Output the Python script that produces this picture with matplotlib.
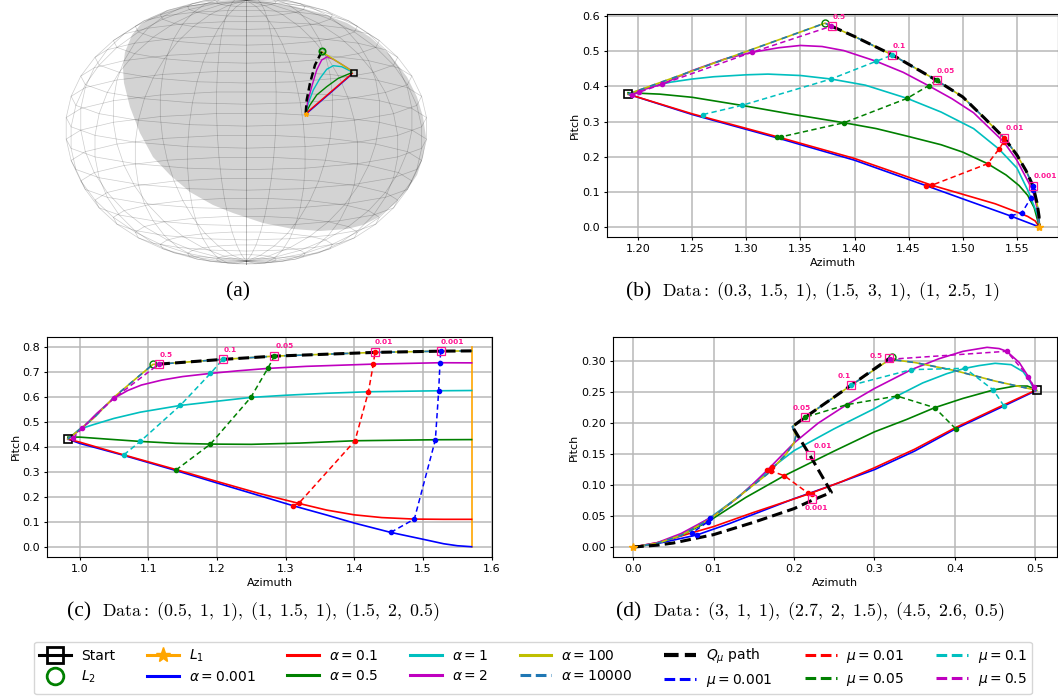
import numpy as np
import matplotlib
matplotlib.use('Agg')
import matplotlib.pyplot as plt
from matplotlib.lines import Line2D
from matplotlib.patches import Polygon

W, H = 1058, 698
plt.rcParams['font.family'] = 'DejaVu Sans'
plt.rcParams['mathtext.fontset'] = 'dejavusans'
plt.rcParams['font.size'] = 8

# ============================================================
# PANEL (b)
# ============================================================
b_start = (1.1907, 0.378)
b_l1 = (1.5708, 0.0)
b_l2 = (1.3727, 0.58)
b_a0001_x = [1.1907, 1.25, 1.3286, 1.40, 1.4659, 1.50, 1.5442, 1.5708]
b_a0001_y = [0.378, 0.32, 0.2535, 0.190, 0.1179, 0.0800, 0.0314, 0.0]
b_a01_x = [1.1907, 1.25, 1.3286, 1.40, 1.4714, 1.50, 1.53, 1.55, 1.56, 1.567, 1.5708]
b_a01_y = [0.378, 0.322, 0.2567, 0.195, 0.1188, 0.093, 0.066, 0.0425, 0.03, 0.017, 0.0]
b_a05_x = [1.1907, 1.22, 1.25, 1.2959, 1.34, 1.3903, 1.42, 1.4486, 1.48, 1.50, 1.523, 1.54, 1.552, 1.56, 1.566, 1.5708]
b_a05_y = [0.382, 0.378, 0.369, 0.346, 0.322, 0.2966, 0.28, 0.2585, 0.234, 0.213, 0.18, 0.148, 0.118, 0.09, 0.055, 0.0]
b_a1_x = [1.1907, 1.21, 1.23, 1.25, 1.27, 1.30, 1.32, 1.35, 1.3783, 1.41, 1.4486, 1.48, 1.51, 1.5335, 1.55, 1.56, 1.563, 1.569, 1.5708]
b_a1_y = [0.378, 0.398, 0.412, 0.421, 0.4275, 0.433, 0.435, 0.431, 0.421, 0.4035, 0.366, 0.327, 0.28, 0.2215, 0.168, 0.105, 0.0827, 0.035, 0.0]
b_a2_x = [1.1907, 1.2219, 1.25, 1.28, 1.3052, 1.33, 1.35, 1.37, 1.39, 1.42, 1.445, 1.4684, 1.49, 1.51, 1.5378, 1.55, 1.5646, 1.569, 1.5708]
b_a2_y = [0.378, 0.406, 0.445, 0.478, 0.497, 0.51, 0.5165, 0.5135, 0.502, 0.4715, 0.44, 0.402, 0.365, 0.325, 0.2424, 0.19, 0.1046, 0.05, 0.0]
b_a100_x = [1.1907, 1.3727, 1.379, 1.40, 1.435, 1.4758, 1.50, 1.52, 1.5384, 1.55, 1.5585, 1.5649, 1.5685, 1.5705, 1.5708]
b_a100_y = [0.378, 0.58, 0.571, 0.542, 0.4895, 0.4173, 0.37, 0.31, 0.2529, 0.205, 0.16, 0.117, 0.07, 0.03, 0.0]
b_q_x = [1.379, 1.40, 1.435, 1.4758, 1.50, 1.52, 1.5384, 1.55, 1.5585, 1.5649, 1.5685, 1.5705, 1.5708]
b_q_y = [0.571, 0.542, 0.4895, 0.4173, 0.37, 0.31, 0.2529, 0.205, 0.16, 0.117, 0.07, 0.03, 0.0]
b_m0001_x = [1.5442, 1.5547, 1.5630, 1.5646, 1.5649]
b_m0001_y = [0.0314, 0.0409, 0.0827, 0.1046, 0.117]
b_m001_x = [1.4659, 1.4714, 1.523, 1.5335, 1.5378, 1.5384]
b_m001_y = [0.1179, 0.1188, 0.18, 0.2215, 0.2424, 0.2529]
b_m005_x = [1.3286, 1.3325, 1.3903, 1.4486, 1.4684, 1.4758]
b_m005_y = [0.2567, 0.2567, 0.2966, 0.366, 0.402, 0.4173]
b_m01_x = [1.26, 1.2959, 1.3783, 1.42, 1.435]
b_m01_y = [0.32, 0.346, 0.421, 0.4715, 0.4895]
b_m05_x = [1.1948, 1.2006, 1.2219, 1.3052, 1.3783]
b_m05_y = [0.3755, 0.383, 0.406, 0.497, 0.571]
b_mu_labels = ['0.5', '0.1', '0.05', '0.01', '0.001']
b_mu_x = [1.379, 1.435, 1.4758, 1.5384, 1.5649]
b_mu_y = [0.571, 0.4895, 0.4173, 0.2529, 0.117]

# ============================================================
# PANEL (c)
# ============================================================
c_start = (0.983, 0.432)
c_l1_x = [1.5708, 1.5708]
c_l1_y = [0.0, 0.80]
c_l2 = (1.1067, 0.7318)
c_a0001_x = [0.983, 1.0, 1.06, 1.14, 1.2, 1.311, 1.36, 1.4, 1.453, 1.5, 1.53, 1.55, 1.5708]
c_a0001_y = [0.432, 0.415, 0.37, 0.306, 0.256, 0.1645, 0.127, 0.095, 0.0575, 0.03, 0.012, 0.004, 0.0]
c_a01_x = [0.983, 1.0, 1.06, 1.14, 1.2, 1.26, 1.3191, 1.36, 1.40, 1.44, 1.4874, 1.53, 1.5708]
c_a01_y = [0.432, 0.42, 0.372, 0.31, 0.262, 0.215, 0.174, 0.147, 0.128, 0.117, 0.111, 0.11, 0.11]
c_a05_x = [0.983, 1.0, 1.04, 1.0883, 1.14, 1.1906, 1.25, 1.32, 1.401, 1.518, 1.5708]
c_a05_y = [0.44, 0.44, 0.432, 0.4227, 0.415, 0.412, 0.411, 0.416, 0.4254, 0.4294, 0.43]
c_a1_x = [0.983, 1.0, 1.02, 1.05, 1.0883, 1.1465, 1.2, 1.2493, 1.3, 1.36, 1.4205, 1.5228, 1.5708]
c_a1_y = [0.432, 0.472, 0.49, 0.515, 0.54, 0.567, 0.584, 0.5993, 0.608, 0.616, 0.622, 0.626, 0.627]
c_a2_x = [0.983, 1.0034, 1.025, 1.0495, 1.07, 1.09, 1.12, 1.15, 1.1906, 1.23, 1.274, 1.33, 1.4277, 1.5247, 1.5708]
c_a2_y = [0.432, 0.475, 0.535, 0.595, 0.627, 0.649, 0.669, 0.683, 0.6957, 0.706, 0.7157, 0.724, 0.733, 0.7385, 0.738]
c_a100_x = [0.983, 1.02, 1.05, 1.08, 1.1067, 1.1159, 1.2085, 1.2837, 1.43, 1.5257, 1.5708]
c_a100_y = [0.432, 0.515, 0.6, 0.67, 0.7318, 0.733, 0.752, 0.765, 0.78, 0.785, 0.786]
c_q_x = [1.1159, 1.2085, 1.2837, 1.43, 1.5257, 1.5708]
c_q_y = [0.733, 0.752, 0.765, 0.78, 0.785, 0.786]
c_m0001_x = [1.453, 1.4874, 1.518, 1.5228, 1.5247, 1.5257]
c_m0001_y = [0.0575, 0.111, 0.4294, 0.626, 0.7385, 0.785]
c_m001_x = [1.3104, 1.3191, 1.401, 1.4205, 1.4277, 1.43]
c_m001_y = [0.1645, 0.174, 0.4254, 0.622, 0.733, 0.78]
c_m005_x = [1.1402, 1.1906, 1.2493, 1.274, 1.2837]
c_m005_y = [0.3077, 0.412, 0.5993, 0.7157, 0.765]
c_m01_x = [1.0645, 1.0883, 1.1465, 1.1906, 1.2085]
c_m01_y = [0.369, 0.4227, 0.567, 0.6957, 0.752]
c_m05_x = [0.9903, 1.0034, 1.0495, 1.115]
c_m05_y = [0.435, 0.475, 0.595, 0.732]
c_mu_labels = ['0.5', '0.1', '0.05', '0.01', '0.001']
c_mu_x = [1.1159, 1.2085, 1.2837, 1.43, 1.5257]
c_mu_y = [0.733, 0.752, 0.765, 0.78, 0.785]

# ============================================================
# PANEL (d)
# ============================================================
d_start = (0.502, 0.253)
d_l1 = (0.0, 0.0)
d_l2 = (0.3215, 0.3075)
d_a0001_x = [0.0, 0.03, 0.0791, 0.12, 0.16, 0.2, 0.25, 0.3, 0.35, 0.401, 0.461, 0.5]
d_a0001_y = [0.0, 0.0055, 0.0194, 0.038, 0.058, 0.078, 0.101, 0.125, 0.155, 0.191, 0.2278, 0.252]
d_a01_x = [0.0, 0.03, 0.05, 0.0737, 0.1, 0.15, 0.2195, 0.26, 0.3, 0.35, 0.401, 0.45, 0.5]
d_a01_y = [0.0, 0.007, 0.014, 0.0232, 0.033, 0.056, 0.0862, 0.106, 0.128, 0.158, 0.193, 0.223, 0.253]
d_a05_x = [0.0, 0.03, 0.06, 0.0932, 0.14, 0.188, 0.25, 0.3, 0.34, 0.375, 0.41, 0.4478, 0.475, 0.49, 0.5]
d_a05_y = [0.0, 0.006, 0.019, 0.0409, 0.08, 0.1152, 0.155, 0.186, 0.206, 0.2251, 0.24, 0.2536, 0.26, 0.26, 0.255]
d_a1_x = [0.0, 0.03, 0.06, 0.0957, 0.13, 0.1732, 0.2, 0.25, 0.3, 0.328, 0.36, 0.39, 0.4126, 0.43, 0.45, 0.47, 0.485, 0.4934, 0.5]
d_a1_y = [0.0, 0.006, 0.019, 0.0474, 0.08, 0.1287, 0.1556, 0.191, 0.2235, 0.2439, 0.265, 0.28, 0.2886, 0.293, 0.2967, 0.2945, 0.283, 0.267, 0.252]
d_a2_x = [0.0, 0.03, 0.06, 0.1, 0.13, 0.15, 0.167, 0.2, 0.23, 0.2655, 0.3, 0.3459, 0.38, 0.41, 0.44, 0.455, 0.4644, 0.48, 0.4913, 0.5]
d_a2_y = [0.0, 0.007, 0.022, 0.05, 0.0795, 0.103, 0.1244, 0.168, 0.2, 0.2299, 0.256, 0.2865, 0.304, 0.316, 0.3225, 0.3205, 0.3161, 0.298, 0.2752, 0.252]
d_a100_x = [0.0, 0.03, 0.06, 0.0957, 0.13, 0.167, 0.19, 0.2, 0.2025, 0.198, 0.2138, 0.2709, 0.3194, 0.35, 0.40, 0.45, 0.502]
d_a100_y = [0.0, 0.006, 0.019, 0.045, 0.08, 0.118, 0.15, 0.168, 0.18, 0.1944, 0.2095, 0.2612, 0.3032, 0.298, 0.285, 0.268, 0.253]
d_q_x = [0.0, 0.03, 0.05, 0.1, 0.15, 0.2, 0.2225, 0.2465, 0.2196, 0.198, 0.2138, 0.2709, 0.3186]
d_q_y = [0.0, 0.003, 0.0065, 0.02, 0.04, 0.062, 0.0755, 0.0883, 0.1486, 0.1944, 0.2095, 0.2612, 0.3048]
d_m0001_x = [0.0791, 0.0737, 0.0932, 0.0957]
d_m0001_y = [0.0194, 0.0232, 0.0409, 0.0474]
d_m001_x = [0.222, 0.2179, 0.188, 0.1715, 0.167, 0.1732]
d_m001_y = [0.0862, 0.0867, 0.1152, 0.1228, 0.1244, 0.1287]
d_m005_x = [0.401, 0.3749, 0.328, 0.2655, 0.2138]
d_m005_y = [0.191, 0.2251, 0.2439, 0.2299, 0.2095]
d_m01_x = [0.461, 0.4478, 0.4126, 0.3459, 0.2709]
d_m01_y = [0.2278, 0.2536, 0.2886, 0.2865, 0.2612]
d_m05_x = [0.4983, 0.4913, 0.4644, 0.3194]
d_m05_y = [0.259, 0.2752, 0.3161, 0.3032]
d_mu_labels = ['0.5', '0.1', '0.05', '0.01', '0.001']
d_mu_x = [0.3186, 0.2709, 0.2138, 0.2196, 0.2225]
d_mu_y = [0.3048, 0.2612, 0.2095, 0.1486, 0.0775]

# ============================================================
# PANEL (a), read in picture pixels
# ============================================================
shade_x = [140, 150, 167, 187, 213, 242, 267, 293, 320, 347, 370, 390, 407, 417, 423, 426, 423, 417, 407, 393, 377, 363, 347,
           320, 293, 263, 233, 213, 190, 170, 153, 140, 130, 124, 123, 125, 132]
shade_y = [25, 18, 11, 6, 2, 1, 2, 6, 13, 23, 37, 55, 77, 97, 117, 137, 157, 175, 190, 205, 218, 225, 229,
           231, 229, 223, 213, 205, 192, 175, 157, 133, 107, 83, 68, 52, 35]
a_start = (353.7, 73.3)
a_l1 = (305.7, 114.3)
a_l2 = (321.7, 50.7)
a_a0001_x = [351, 305.7]
a_a0001_y = [75, 114.3]
a_a01_x = [352.3, 306.7]
a_a01_y = [73.3, 112.7]
a_a05_x = [351.7, 338.3, 326.7, 316.7, 310, 305.7]
a_a05_y = [72.7, 78.3, 86.7, 95, 105, 113.3]
a_a1_x = [351.7, 341.7, 333.3, 326.7, 320, 313.3, 308.3, 305.7]
a_a1_y = [71.7, 66.7, 65.7, 69.3, 78.3, 90, 103.3, 113.3]
a_a2_x = [351.7, 340, 333.3, 327.3, 321.7, 316.7, 311.7, 307.7, 305.7]
a_a2_y = [70.7, 63.3, 59.3, 56.7, 60, 70, 86.7, 101.7, 113.3]
a_a100_x = [352, 321.7]
a_a100_y = [71, 51.7]
a_q_x = [321.7, 315, 310, 306.7, 305.7]
a_q_y = [51.7, 65, 83.3, 100, 113.3]

# ============================================================
# STYLES
# ============================================================
alpha_names = ['a0001', 'a01', 'a05', 'a1', 'a2', 'a100']
alpha_cols = ['b', 'r', 'g', 'c', 'm', 'y']
mu_names = ['m0001', 'm001', 'm005', 'm01', 'm05']
mu_cols = ['b', 'r', 'g', 'c', 'm']
PINK = 'deeppink'


def make_axes(left, right, top, bottom):
    ax = fig.add_axes([left / W, 1 - bottom / H, (right - left) / W, (bottom - top) / H])
    ax.grid(True, color='#b8b8b8', lw=1.1)
    ax.set_axisbelow(True)
    ax.tick_params(length=2.5, width=0.8, labelsize=8, pad=2.5)
    ax.set_xlabel('Azimuth', fontsize=8, labelpad=3)
    ax.set_ylabel('Pitch', fontsize=8, labelpad=1.5)
    return ax


def draw_panel(ax, p, start, l2, label_offs, star=None):
    g = globals()
    for n, c in zip(alpha_names, alpha_cols):
        ax.plot(g[f'{p}_{n}_x'], g[f'{p}_{n}_y'], color=c, lw=1.2)
    ax.plot(g[f'{p}_a100_x'], g[f'{p}_a100_y'], color='tab:blue', lw=1.2, ls=(0, (3.5, 3.5)))
    ax.plot(g[f'{p}_q_x'], g[f'{p}_q_y'], color='k', lw=2.2, ls=(0, (3.5, 1.7)))
    ax.plot(*start, marker='s', ms=6, mfc='none', mec='k', mew=1.2, ls='none')
    ax.plot(*l2, marker='o', ms=5, mfc='none', mec='g', mew=1.0, ls='none')
    if star is not None:
        ax.plot(*star, marker='*', ms=6, color='orange', ls='none')
    for n, c in zip(mu_names, mu_cols):
        ax.plot(g[f'{p}_{n}_x'], g[f'{p}_{n}_y'], color=c, lw=1.1, ls=(0, (3.5, 2.2)), marker='o', ms=3)
    xs, ys, labs = g[f'{p}_mu_x'], g[f'{p}_mu_y'], g[f'{p}_mu_labels']
    ax.plot(xs, ys, ls='none', marker='s', ms=6, mfc='none', mec=PINK, mew=0.9)
    for x, y, t, off in zip(xs, ys, labs, label_offs):
        ax.annotate(t, (x, y), xytext=off, textcoords='offset pixels', color=PINK, fontsize=5.3,
                    fontweight='bold', ha='center', va='center')


def caption(x, y, letter, data_x, text):
    fig.text(x / W, 1 - y / H, letter, family='Liberation Serif', fontsize=15.5, va='center', ha='left')
    if text:
        fig.text(data_x / W, 1 - y / H, text, fontsize=12.8, va='center', ha='left', math_fontfamily='cm')


fig = plt.figure(figsize=(W / 100, H / 100), dpi=100)

# panel (a)
ax_bg = fig.add_axes([0, 1 - 280 / H, 500 / W, 280 / H])
ax_bg.set_xlim(0, 500)
ax_bg.set_ylim(280, 0)
ax_bg.axis('off')
ax_bg.add_patch(Polygon(np.column_stack([shade_x, shade_y]), closed=True, fc='#d3d3d3', ec='none'))

side = 470
ax3 = fig.add_axes([(240 - side / 2) / W, 1 - (137 + side / 2) / H, side / W, side / H], projection='3d', proj_type='ortho')
ax3.set_axis_off()
ax3.patch.set_alpha(0)
u = np.linspace(0, 2 * np.pi, 20)
v = np.linspace(0, np.pi, 20)
ax3.plot_wireframe(np.outer(np.cos(u), np.sin(v)), np.outer(np.sin(u), np.sin(v)),
                   np.outer(np.ones_like(u), np.cos(v)), color='k', lw=0.5, alpha=0.2)
ax3.set_xlim(-1, 1)
ax3.set_ylim(-1, 1)
ax3.set_zlim(-1, 1)
ax3.view_init(elev=9, azim=0)
ax3.set_box_aspect((4.12, 4.12, 3), zoom=1.192)

ax_top = fig.add_axes([0, 1 - 280 / H, 500 / W, 280 / H])
ax_top.set_xlim(0, 500)
ax_top.set_ylim(280, 0)
ax_top.axis('off')
for n, c in zip(alpha_names, alpha_cols):
    ax_top.plot(globals()[f'a_{n}_x'], globals()[f'a_{n}_y'], color=c, lw=1.0)
ax_top.plot(a_q_x, a_q_y, color='k', lw=1.8, ls=(0, (3, 1.5)))
ax_top.plot(*a_start, marker='s', ms=4.5, mfc='none', mec='k', mew=1.1, ls='none')
ax_top.plot(*a_l2, marker='o', ms=4.5, mfc='none', mec='g', mew=1.3, ls='none')
ax_top.plot(*a_l1, marker='*', ms=3.5, color='orange', ls='none')
caption(226, 292, '(a)', 0, '')

# panel (b)
ax_b = make_axes(607, 1058, 14, 237)
draw_panel(ax_b, 'b', b_start, b_l2, [(7, 9), (7, 9), (9, 9), (10, 10), (12, 10)], star=b_l1)
ax_b.set_xlim(1.1713, 1.588)
ax_b.set_ylim(-0.0285, 0.606)
ax_b.set_xticks([1.20, 1.25, 1.30, 1.35, 1.40, 1.45, 1.50, 1.55])
ax_b.set_xticklabels(['1.20', '1.25', '1.30', '1.35', '1.40', '1.45', '1.50', '1.55'])
caption(626, 292, '(b)', 662, r'$\mathrm{Data{:}}\ (0.3,\ 1.5,\ 1),\ (1.5,\ 3,\ 1),\ (1,\ 2.5,\ 1)$')

# panel (c)
ax_c = make_axes(47.3, 491.7, 336.7, 556.7)
ax_c.plot(c_l1_x, c_l1_y, color='orange', lw=1.2)
draw_panel(ax_c, 'c', c_start, c_l2, [(7, 9), (7, 9), (10, 10), (9, 10), (12, 9)])
ax_c.set_xlim(0.953, 1.6)
ax_c.set_ylim(-0.04, 0.843)
caption(67, 612, '(c)', 102, r'$\mathrm{Data{:}}\ (0.5,\ 1,\ 1),\ (1,\ 1.5,\ 1),\ (1.5,\ 2,\ 0.5)$')

# panel (d)
ax_d = make_axes(612.7, 1057.3, 337.3, 556.7)
draw_panel(ax_d, 'd', d_start, d_l2, [(-13, 2), (-7, 9), (-3, 9), (13, 9), (4, -9)], star=d_l1)
ax_d.set_xlim(-0.0253, 0.5273)
ax_d.set_ylim(-0.0156, 0.3387)
ax_d.set_yticks([0.0, 0.05, 0.10, 0.15, 0.20, 0.25, 0.30])
ax_d.set_yticklabels(['0.00', '0.05', '0.10', '0.15', '0.20', '0.25', '0.30'])
caption(616, 612, '(d)', 653, r'$\mathrm{Data{:}}\ (3,\ 1,\ 1),\ (2.7,\ 2,\ 1.5),\ (4.5,\ 2.6,\ 0.5)$')

# legend
lw_leg = 2.2
handles = [
    Line2D([], [], color='k', lw=lw_leg, marker='s', ms=12, mfc='none', mew=2),
    Line2D([], [], color='none', marker='o', ms=12, mfc='none', mec='g', mew=2),
    Line2D([], [], color='orange', lw=lw_leg, marker='*', ms=11),
    Line2D([], [], color='b', lw=lw_leg),
    Line2D([], [], color='r', lw=lw_leg),
    Line2D([], [], color='g', lw=lw_leg),
    Line2D([], [], color='c', lw=lw_leg),
    Line2D([], [], color='m', lw=lw_leg),
    Line2D([], [], color='y', lw=lw_leg),
    Line2D([], [], color='tab:blue', lw=lw_leg, ls=(0, (3.5, 1.5))),
    Line2D([], [], color='k', lw=3, ls=(0, (3.5, 1.5))),
    Line2D([], [], color='b', lw=lw_leg, ls=(0, (3.5, 1.5))),
    Line2D([], [], color='r', lw=lw_leg, ls=(0, (3.5, 1.5))),
    Line2D([], [], color='g', lw=lw_leg, ls=(0, (3.5, 1.5))),
    Line2D([], [], color='c', lw=lw_leg, ls=(0, (3.5, 1.5))),
    Line2D([], [], color='m', lw=lw_leg, ls=(0, (3.5, 1.5))),
]
labels = ['Start', '$L_2$', '$L_1$', r'$\alpha = 0.001$', r'$\alpha = 0.1$', r'$\alpha = 0.5$',
          r'$\alpha = 1$', r'$\alpha = 2$', r'$\alpha = 100$', r'$\alpha = 10000$',
          r'$Q_\mu$ path', r'$\mu = 0.001$', r'$\mu = 0.01$', r'$\mu = 0.05$', r'$\mu = 0.1$', r'$\mu = 0.5$']
fig.legend(handles, labels, ncol=8, loc='center', bbox_to_anchor=(533 / W, 1 - 668 / H), fontsize=10,
           handlelength=2.3, columnspacing=2.3, handletextpad=0.7, labelspacing=0.4, borderpad=0.4)

fig.savefig('out.png', dpi=100)
